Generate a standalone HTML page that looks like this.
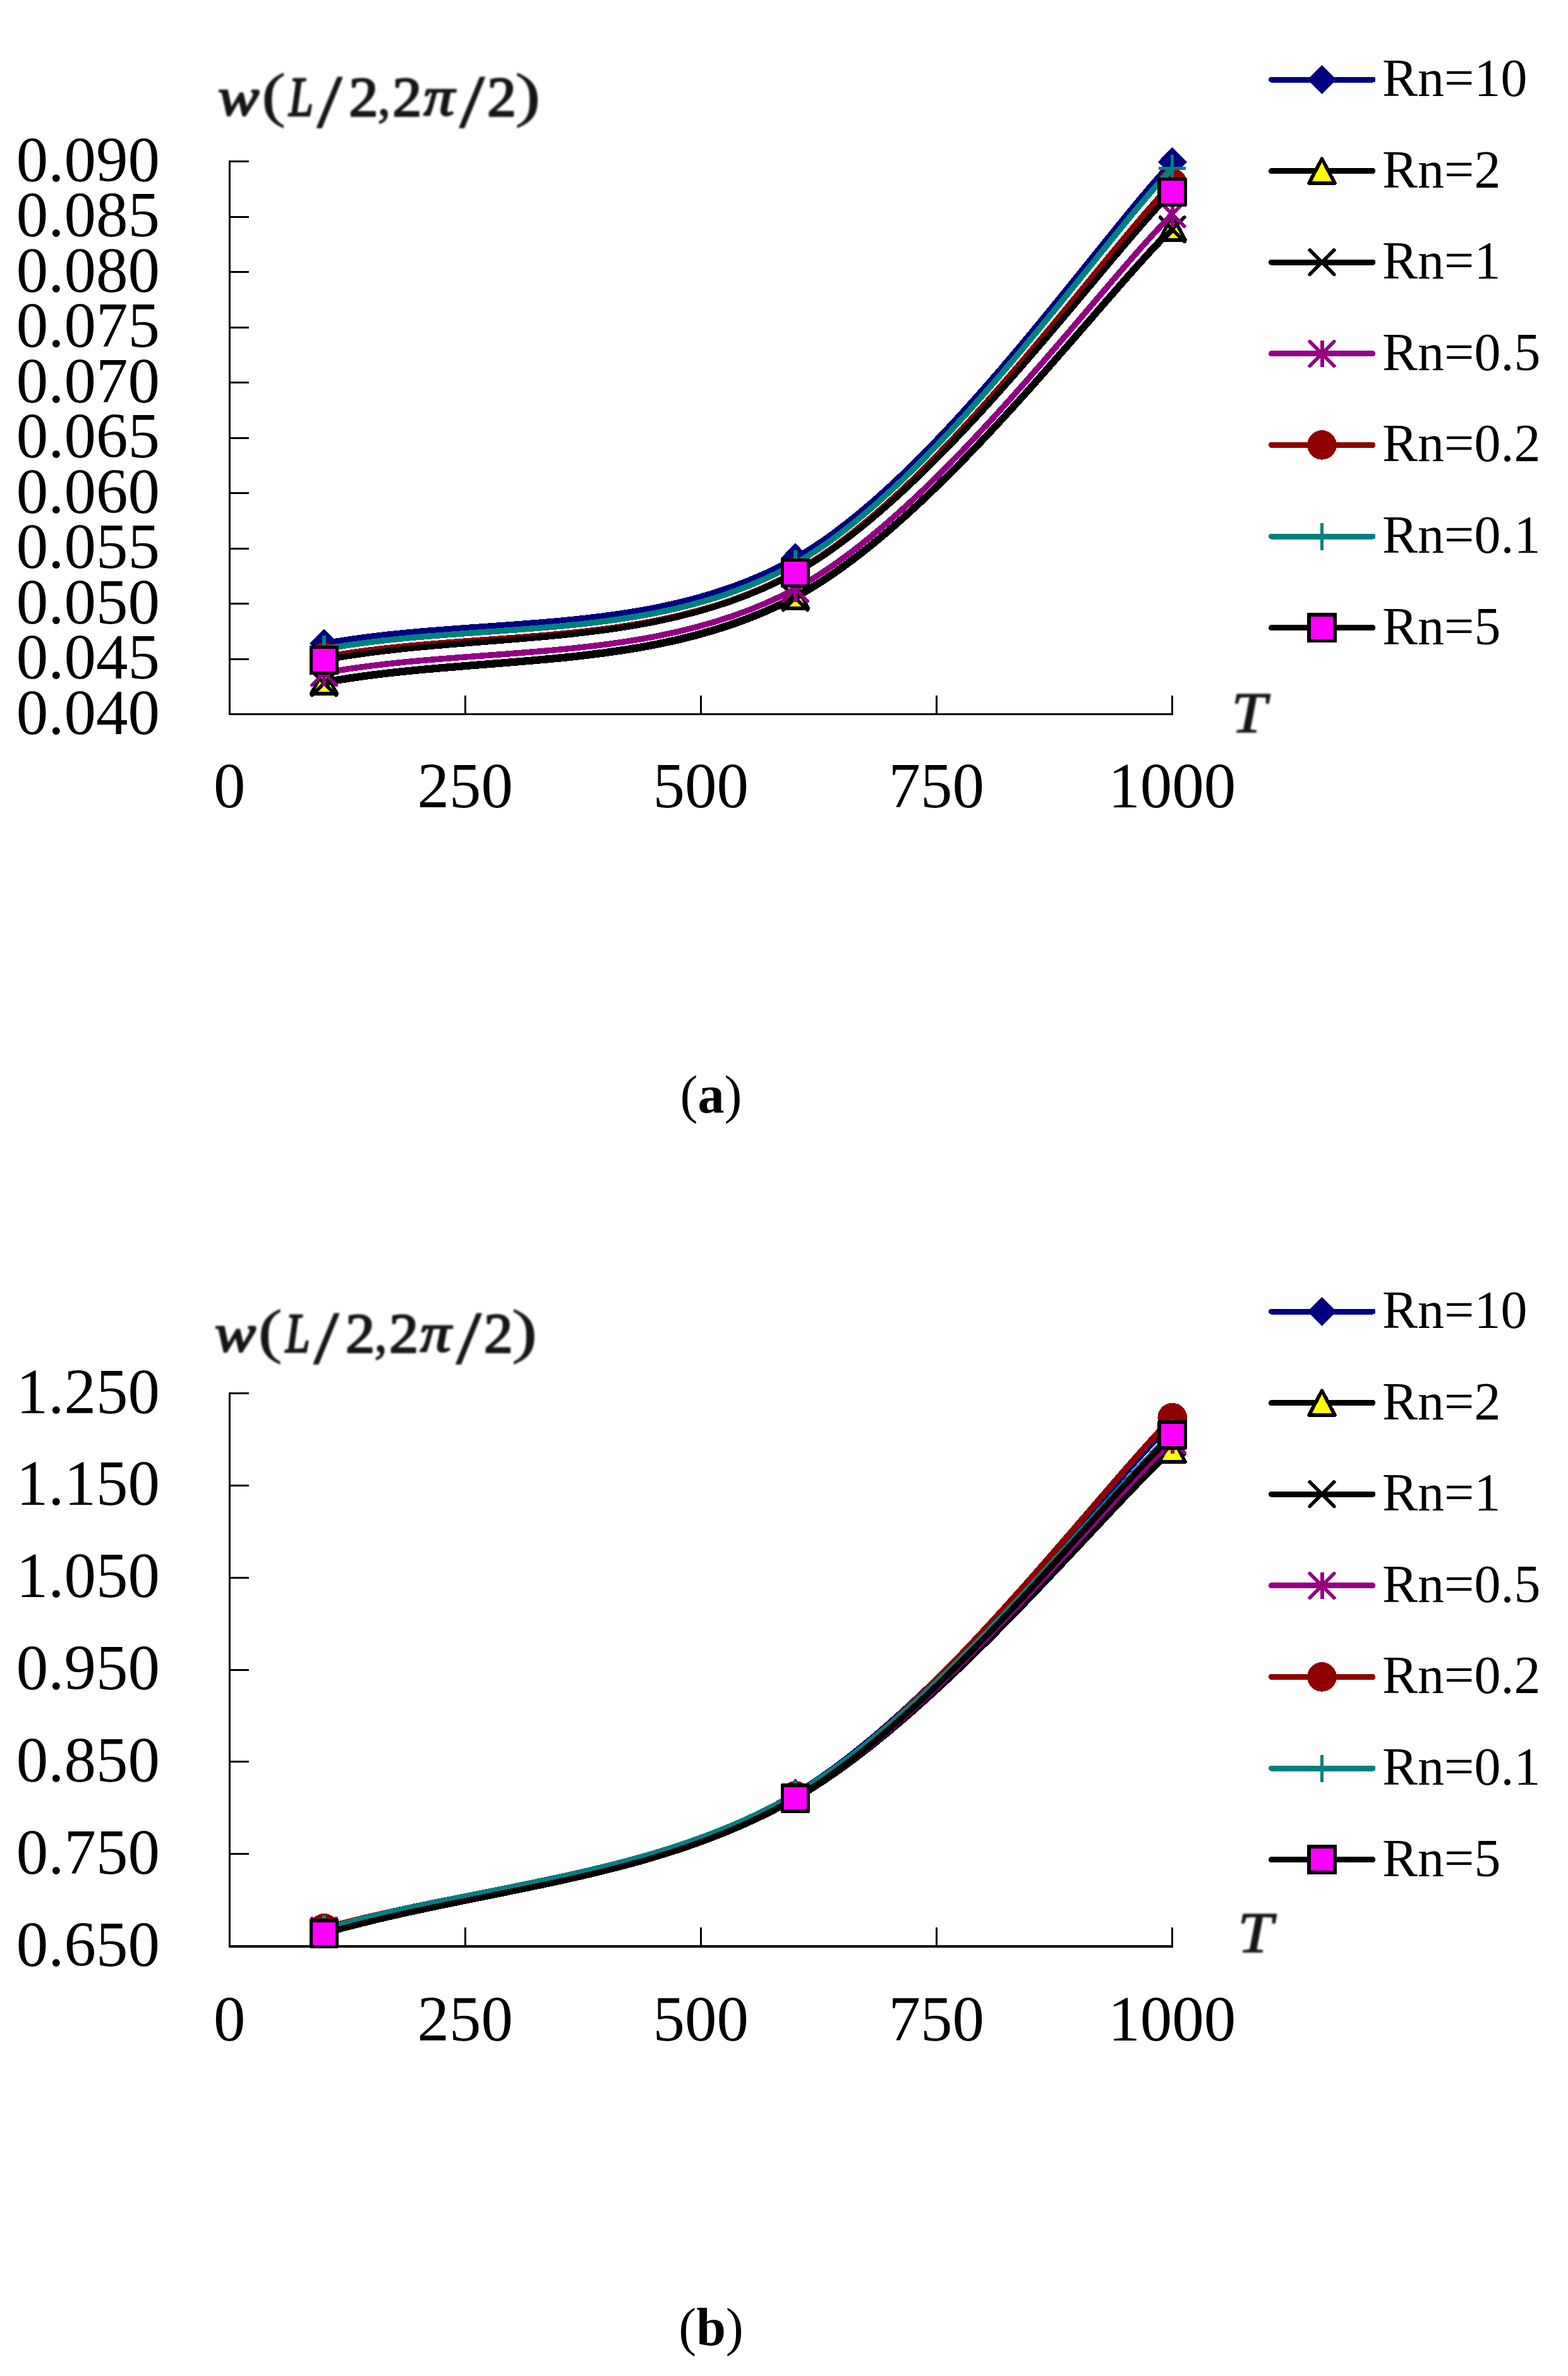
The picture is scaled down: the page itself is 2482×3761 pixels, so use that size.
<!DOCTYPE html>
<html lang="en"><head><meta charset="utf-8"><title>Figure</title>
<style>html,body{margin:0;padding:0;background:#fff}svg{display:block}</style></head><body>
<svg width="2482" height="3761" viewBox="0 0 2482 3761" role="img">
<defs><filter id="soft" x="-5%" y="-20%" width="110%" height="140%"><feGaussianBlur stdDeviation="1.5"/></filter></defs>
<rect width="2482" height="3761" fill="#fff"/>
<g shape-rendering="crispEdges" fill="#000">
<rect x="362" y="254" width="3" height="878"/>
<rect x="362" y="1129" width="1495" height="3"/>
<rect x="362" y="1042" width="32" height="3"/>
<rect x="362" y="954" width="32" height="3"/>
<rect x="362" y="867" width="32" height="3"/>
<rect x="362" y="779" width="32" height="3"/>
<rect x="362" y="692" width="32" height="3"/>
<rect x="362" y="604" width="32" height="3"/>
<rect x="362" y="517" width="32" height="3"/>
<rect x="362" y="429" width="32" height="3"/>
<rect x="362" y="342" width="32" height="3"/>
<rect x="362" y="254" width="32" height="3"/>
<rect x="735" y="1101" width="3" height="29"/>
<rect x="1108" y="1101" width="3" height="29"/>
<rect x="1481" y="1101" width="3" height="29"/>
<rect x="1854" y="1101" width="3" height="29"/>
</g>
<g font-family="'Liberation Serif', serif" font-size="101" fill="#000">
<text x="253" y="1161.5" text-anchor="end">0.040</text>
<text x="253" y="1074" text-anchor="end">0.045</text>
<text x="253" y="986.5" text-anchor="end">0.050</text>
<text x="253" y="899" text-anchor="end">0.055</text>
<text x="253" y="811.5" text-anchor="end">0.060</text>
<text x="253" y="724" text-anchor="end">0.065</text>
<text x="253" y="636.5" text-anchor="end">0.070</text>
<text x="253" y="549" text-anchor="end">0.075</text>
<text x="253" y="461.5" text-anchor="end">0.080</text>
<text x="253" y="374" text-anchor="end">0.085</text>
<text x="253" y="286.5" text-anchor="end">0.090</text>
<text x="363.3" y="1278" text-anchor="middle">0</text>
<text x="736.28" y="1278" text-anchor="middle">250</text>
<text x="1109.25" y="1278" text-anchor="middle">500</text>
<text x="1482.22" y="1278" text-anchor="middle">750</text>
<text x="1855.2" y="1278" text-anchor="middle">1000</text>
</g>
<g font-family="'Liberation Serif', serif" font-size="100" fill="#141414" stroke="#141414" stroke-linejoin="round" filter="url(#soft)">
<g><title>w(L/2,2π/2)</title><text transform="matrix(0.9780 0 0 0.8571 345.05 181.74)" stroke-width="3.06" font-style="italic">w</text><text transform="matrix(1.1518 0 0 0.9493 413.88 182.33)" stroke-width="0.86">(</text><text transform="matrix(0.6948 0 0 0.8962 457.23 182.6)" stroke-width="3.55" font-style="italic">L</text><text transform="matrix(1.4209 0 0 1.1809 502 200.82)" stroke-width="1.54">/</text><text transform="matrix(0.9277 0 0 0.8943 552.32 182.6)" stroke-width="3.07">2</text><text transform="matrix(0.8389 0 0 0.8755 597.56 182.27)" stroke-width="1.75">,</text><text transform="matrix(0.9277 0 0 0.8943 621.32 182.6)" stroke-width="3.07">2</text><text transform="matrix(0.9769 0 0 0.8571 670.41 181.74)" stroke-width="3.06" font-style="italic">π</text><text transform="matrix(1.4209 0 0 1.1809 727.5 200.82)" stroke-width="1.54">/</text><text transform="matrix(0.9152 0 0 0.8943 771.37 182.6)" stroke-width="3.10">2</text><text transform="matrix(1.2296 0 0 0.9493 815.02 182.33)" stroke-width="0.83">)</text></g>
<text transform="matrix(0.9964 0 0 0.9191 1949.32 1159.1)" stroke-width="1.88" font-style="italic">T</text>
</g>
<g fill="none" stroke-width="9.5" stroke-linejoin="round" shape-rendering="crispEdges">
<path d="M512.99 1018.5 C761.64 973.4 1035.15 1010.22 1258.94 883.2 C1482.73 756.18 1736.35 381.76 1855.7 256.4" stroke="#000080"/>
<g stroke-width="1">
<path d="M512.99 995.1 L535.99 1018.5 L512.99 1041.9 L489.99 1018.5Z" fill="#000080"/>
<path d="M1258.94 859.8 L1281.94 883.2 L1258.94 906.6 L1235.94 883.2Z" fill="#000080"/>
<path d="M1855.7 233 L1878.7 256.4 L1855.7 279.8 L1832.7 256.4Z" fill="#000080"/>
</g>
<path d="M512.99 1078.8 C761.64 1033.73 1035.15 1063.32 1258.94 943.6 C1482.73 823.88 1736.35 477.12 1855.7 360.5" stroke="#000000"/>
<g stroke-width="1">
<path d="M512.99 1059.4 L533.39 1098.2 L492.59 1098.2Z" fill="#ffff00" stroke="#000" stroke-width="5.6" stroke-linejoin="round"/>
<path d="M1258.94 924.2 L1279.34 963 L1238.54 963Z" fill="#ffff00" stroke="#000" stroke-width="5.6" stroke-linejoin="round"/>
<path d="M1855.7 341.1 L1876.1 379.9 L1835.3 379.9Z" fill="#ffff00" stroke="#000" stroke-width="5.6" stroke-linejoin="round"/>
</g>
<path d="M512.99 1081.4 C761.64 1036.43 1035.15 1066.2 1258.94 946.5 C1482.73 826.8 1736.35 479.86 1855.7 363.2" stroke="#000000"/>
<g stroke-width="1">
<path d="M493.79 1062.2 L532.19 1100.6 M493.79 1100.6 L532.19 1062.2" fill="none" stroke="#000" stroke-width="5.6" stroke-linecap="round"/>
<path d="M1239.74 927.3 L1278.14 965.7 M1239.74 965.7 L1278.14 927.3" fill="none" stroke="#000" stroke-width="5.6" stroke-linecap="round"/>
<path d="M1836.5 344 L1874.9 382.4 M1836.5 382.4 L1874.9 344" fill="none" stroke="#000" stroke-width="5.6" stroke-linecap="round"/>
</g>
<path d="M512.99 1065 C761.64 1020.67 1035.15 1053 1258.94 932 C1482.73 811 1736.35 457.6 1855.7 339" stroke="#930084"/>
<g stroke-width="1">
<path d="M493.79 1045.8 L532.19 1084.2 M493.79 1084.2 L532.19 1045.8" fill="none" stroke="#930084" stroke-width="5.6" stroke-linecap="round"/><path d="M512.99 1044.2 L512.99 1085.8" fill="none" stroke="#930084" stroke-width="6"/>
<path d="M1239.74 912.8 L1278.14 951.2 M1239.74 951.2 L1278.14 912.8" fill="none" stroke="#930084" stroke-width="5.6" stroke-linecap="round"/><path d="M1258.94 911.2 L1258.94 952.8" fill="none" stroke="#930084" stroke-width="6"/>
<path d="M1836.5 319.8 L1874.9 358.2 M1836.5 358.2 L1874.9 319.8" fill="none" stroke="#930084" stroke-width="5.6" stroke-linecap="round"/><path d="M1855.7 318.2 L1855.7 359.8" fill="none" stroke="#930084" stroke-width="6"/>
</g>
<path d="M512.99 1040 C761.64 995 1035.15 1030 1258.94 905 C1482.73 780 1736.35 413 1855.7 290" stroke="#900000"/>
<g stroke-width="1">
<circle cx="512.99" cy="1040" r="23.3" fill="#900000"/>
<circle cx="1258.94" cy="905" r="23.3" fill="#900000"/>
<circle cx="1855.7" cy="290" r="23.3" fill="#900000"/>
</g>
<path d="M512.99 1027.5 C761.64 982.33 1035.15 1018.87 1258.94 892 C1482.73 765.13 1736.35 391.44 1855.7 266.3" stroke="#008080"/>
<g stroke-width="1">
<path d="M491.49 1027.5 L534.49 1027.5 M512.99 1006 L512.99 1049" fill="none" stroke="#008080" stroke-width="5.2"/>
<path d="M1237.44 892 L1280.44 892 M1258.94 870.5 L1258.94 913.5" fill="none" stroke="#008080" stroke-width="5.2"/>
<path d="M1834.2 266.3 L1877.2 266.3 M1855.7 244.8 L1855.7 287.8" fill="none" stroke="#008080" stroke-width="5.2"/>
</g>
<path d="M512.99 1045 C761.64 999 1035.15 1030.5 1258.94 907 C1482.73 783.5 1736.35 424.6 1855.7 304" stroke="#000000"/>
<g stroke-width="1">
<rect x="492.39" y="1024.4" width="41.2" height="41.2" fill="#ff00ff" stroke="#000" stroke-width="5.4"/>
<rect x="1238.34" y="886.4" width="41.2" height="41.2" fill="#ff00ff" stroke="#000" stroke-width="5.4"/>
<rect x="1835.1" y="283.4" width="41.2" height="41.2" fill="#ff00ff" stroke="#000" stroke-width="5.4"/>
</g>
</g>
<g font-family="'Liberation Serif', serif" font-size="84" fill="#000" shape-rendering="crispEdges">
<path d="M2012.5 126 H2173" stroke="#000080" stroke-width="9" stroke-linecap="round" fill="none"/>
<path d="M2092.5 102.6 L2115.5 126 L2092.5 149.4 L2069.5 126Z" fill="#000080"/>
<text x="2188" y="152">Rn=10</text>
<path d="M2012.5 270.6 H2173" stroke="#000000" stroke-width="9" stroke-linecap="round" fill="none"/>
<path d="M2092.5 251.2 L2112.9 290 L2072.1 290Z" fill="#ffff00" stroke="#000" stroke-width="5.6" stroke-linejoin="round"/>
<text x="2188" y="296.6">Rn=2</text>
<path d="M2012.5 415.2 H2173" stroke="#000000" stroke-width="9" stroke-linecap="round" fill="none"/>
<path d="M2073.3 396 L2111.7 434.4 M2073.3 434.4 L2111.7 396" fill="none" stroke="#000" stroke-width="5.6" stroke-linecap="round"/>
<text x="2188" y="441.2">Rn=1</text>
<path d="M2012.5 559.8 H2173" stroke="#930084" stroke-width="9" stroke-linecap="round" fill="none"/>
<path d="M2073.3 540.6 L2111.7 579 M2073.3 579 L2111.7 540.6" fill="none" stroke="#930084" stroke-width="5.6" stroke-linecap="round"/><path d="M2092.5 539 L2092.5 580.6" fill="none" stroke="#930084" stroke-width="6"/>
<text x="2188" y="585.8">Rn=0.5</text>
<path d="M2012.5 704.4 H2173" stroke="#900000" stroke-width="9" stroke-linecap="round" fill="none"/>
<circle cx="2092.5" cy="704.4" r="23.3" fill="#900000"/>
<text x="2188" y="730.4">Rn=0.2</text>
<path d="M2012.5 849 H2173" stroke="#008080" stroke-width="9" stroke-linecap="round" fill="none"/>
<path d="M2071 849 L2114 849 M2092.5 827.5 L2092.5 870.5" fill="none" stroke="#008080" stroke-width="5.2"/>
<text x="2188" y="875">Rn=0.1</text>
<path d="M2012.5 993.6 H2173" stroke="#000000" stroke-width="9" stroke-linecap="round" fill="none"/>
<rect x="2071.9" y="973" width="41.2" height="41.2" fill="#ff00ff" stroke="#000" stroke-width="5.4"/>
<text x="2188" y="1019.6">Rn=5</text>
</g>
<g shape-rendering="crispEdges" fill="#000">
<rect x="362" y="2204" width="3" height="878"/>
<rect x="362" y="3079" width="1495" height="4"/>
<rect x="362" y="2933" width="32" height="3"/>
<rect x="362" y="2787" width="32" height="3"/>
<rect x="362" y="2642" width="32" height="3"/>
<rect x="362" y="2496" width="32" height="3"/>
<rect x="362" y="2350" width="32" height="3"/>
<rect x="362" y="2204" width="32" height="3"/>
<rect x="735" y="3051" width="3" height="29"/>
<rect x="1108" y="3051" width="3" height="29"/>
<rect x="1481" y="3051" width="3" height="29"/>
<rect x="1854" y="3051" width="3" height="29"/>
</g>
<g font-family="'Liberation Serif', serif" font-size="101" fill="#000">
<text x="253" y="3111.5" text-anchor="end">0.650</text>
<text x="253" y="2965.67" text-anchor="end">0.750</text>
<text x="253" y="2819.83" text-anchor="end">0.850</text>
<text x="253" y="2674" text-anchor="end">0.950</text>
<text x="253" y="2528.17" text-anchor="end">1.050</text>
<text x="253" y="2382.33" text-anchor="end">1.150</text>
<text x="253" y="2236.5" text-anchor="end">1.250</text>
<text x="363.3" y="3229.5" text-anchor="middle">0</text>
<text x="736.28" y="3229.5" text-anchor="middle">250</text>
<text x="1109.25" y="3229.5" text-anchor="middle">500</text>
<text x="1482.22" y="3229.5" text-anchor="middle">750</text>
<text x="1855.2" y="3229.5" text-anchor="middle">1000</text>
</g>
<g font-family="'Liberation Serif', serif" font-size="100" fill="#141414" stroke="#141414" stroke-linejoin="round" filter="url(#soft)">
<g><title>w(L/2,2π/2)</title><text transform="matrix(0.9780 0 0 0.8571 339.75 2138.74)" stroke-width="3.06" font-style="italic">w</text><text transform="matrix(1.1518 0 0 0.9493 408.58 2139.33)" stroke-width="0.86">(</text><text transform="matrix(0.6948 0 0 0.8962 451.93 2139.6)" stroke-width="3.55" font-style="italic">L</text><text transform="matrix(1.4209 0 0 1.1809 496.7 2157.82)" stroke-width="1.54">/</text><text transform="matrix(0.9277 0 0 0.8943 547.02 2139.6)" stroke-width="3.07">2</text><text transform="matrix(0.8389 0 0 0.8755 592.26 2139.27)" stroke-width="1.75">,</text><text transform="matrix(0.9277 0 0 0.8943 616.02 2139.6)" stroke-width="3.07">2</text><text transform="matrix(0.9769 0 0 0.8571 665.11 2138.74)" stroke-width="3.06" font-style="italic">π</text><text transform="matrix(1.4209 0 0 1.1809 722.2 2157.82)" stroke-width="1.54">/</text><text transform="matrix(0.9152 0 0 0.8943 766.07 2139.6)" stroke-width="3.10">2</text><text transform="matrix(1.2296 0 0 0.9493 809.72 2139.33)" stroke-width="0.83">)</text></g>
<text transform="matrix(0.9964 0 0 0.9191 1959.32 3090.1)" stroke-width="1.88" font-style="italic">T</text>
</g>
<g fill="none" stroke-width="9.5" stroke-linejoin="round" shape-rendering="crispEdges">
<path d="M512.99 3053 C761.64 2981.73 1035.15 2972.7 1258.94 2839.2 C1482.73 2705.7 1736.35 2369.44 1855.7 2252" stroke="#000080"/>
<g stroke-width="1">
<path d="M512.99 3029.6 L535.99 3053 L512.99 3076.4 L489.99 3053Z" fill="#000080"/>
<path d="M1258.94 2815.8 L1281.94 2839.2 L1258.94 2862.6 L1235.94 2839.2Z" fill="#000080"/>
<path d="M1855.7 2228.6 L1878.7 2252 L1855.7 2275.4 L1832.7 2252Z" fill="#000080"/>
</g>
<path d="M512.99 3061 C761.64 2989.83 1035.15 2975.23 1258.94 2847.5 C1482.73 2719.77 1736.35 2405.18 1855.7 2294.6" stroke="#000000"/>
<g stroke-width="1">
<path d="M512.99 3041.6 L533.39 3080.4 L492.59 3080.4Z" fill="#ffff00" stroke="#000" stroke-width="5.6" stroke-linejoin="round"/>
<path d="M1258.94 2828.1 L1279.34 2866.9 L1238.54 2866.9Z" fill="#ffff00" stroke="#000" stroke-width="5.6" stroke-linejoin="round"/>
<path d="M1855.7 2275.2 L1876.1 2314 L1835.3 2314Z" fill="#ffff00" stroke="#000" stroke-width="5.6" stroke-linejoin="round"/>
</g>
<path d="M512.99 3061 C761.64 2989.83 1035.15 2977.17 1258.94 2847.5 C1482.73 2717.83 1736.35 2395.9 1855.7 2283" stroke="#000000"/>
<g stroke-width="1">
<path d="M493.79 3041.8 L532.19 3080.2 M493.79 3080.2 L532.19 3041.8" fill="none" stroke="#000" stroke-width="5.6" stroke-linecap="round"/>
<path d="M1239.74 2828.3 L1278.14 2866.7 M1239.74 2866.7 L1278.14 2828.3" fill="none" stroke="#000" stroke-width="5.6" stroke-linecap="round"/>
<path d="M1836.5 2263.8 L1874.9 2302.2 M1836.5 2302.2 L1874.9 2263.8" fill="none" stroke="#000" stroke-width="5.6" stroke-linecap="round"/>
</g>
<path d="M512.99 3055.8 C761.64 2985.87 1035.15 2975.3 1258.94 2846 C1482.73 2716.7 1736.35 2393.2 1855.7 2280" stroke="#930084"/>
<g stroke-width="1">
<path d="M493.79 3036.6 L532.19 3075 M493.79 3075 L532.19 3036.6" fill="none" stroke="#930084" stroke-width="5.6" stroke-linecap="round"/><path d="M512.99 3035 L512.99 3076.6" fill="none" stroke="#930084" stroke-width="6"/>
<path d="M1239.74 2826.8 L1278.14 2865.2 M1239.74 2865.2 L1278.14 2826.8" fill="none" stroke="#930084" stroke-width="5.6" stroke-linecap="round"/><path d="M1258.94 2825.2 L1258.94 2866.8" fill="none" stroke="#930084" stroke-width="6"/>
<path d="M1836.5 2260.8 L1874.9 2299.2 M1836.5 2299.2 L1874.9 2260.8" fill="none" stroke="#930084" stroke-width="5.6" stroke-linecap="round"/><path d="M1855.7 2259.2 L1855.7 2300.8" fill="none" stroke="#930084" stroke-width="6"/>
</g>
<path d="M512.99 3052.3 C761.64 2982.33 1035.15 2977.12 1258.94 2842.4 C1482.73 2707.68 1736.35 2363.68 1855.7 2244" stroke="#900000"/>
<g stroke-width="1">
<circle cx="512.99" cy="3052.3" r="23.3" fill="#900000"/>
<circle cx="1258.94" cy="2842.4" r="23.3" fill="#900000"/>
<circle cx="1855.7" cy="2244" r="23.3" fill="#900000"/>
</g>
<path d="M512.99 3053.5 C761.64 2982.27 1035.15 2970.63 1258.94 2839.8 C1482.73 2708.97 1736.35 2382.76 1855.7 2268.5" stroke="#008080"/>
<g stroke-width="1">
<path d="M491.49 3053.5 L534.49 3053.5 M512.99 3032 L512.99 3075" fill="none" stroke="#008080" stroke-width="5.2"/>
<path d="M1237.44 2839.8 L1280.44 2839.8 M1258.94 2818.3 L1258.94 2861.3" fill="none" stroke="#008080" stroke-width="5.2"/>
<path d="M1834.2 2268.5 L1877.2 2268.5 M1855.7 2247 L1855.7 2290" fill="none" stroke="#008080" stroke-width="5.2"/>
</g>
<path d="M512.99 3060.7 C761.64 2989.27 1035.15 2977.95 1258.94 2846.4 C1482.73 2714.85 1736.35 2386.4 1855.7 2271.4" stroke="#000000"/>
<g stroke-width="1">
<rect x="492.39" y="3040.1" width="41.2" height="41.2" fill="#ff00ff" stroke="#000" stroke-width="5.4"/>
<rect x="1238.34" y="2825.8" width="41.2" height="41.2" fill="#ff00ff" stroke="#000" stroke-width="5.4"/>
<rect x="1835.1" y="2250.8" width="41.2" height="41.2" fill="#ff00ff" stroke="#000" stroke-width="5.4"/>
</g>
</g>
<g font-family="'Liberation Serif', serif" font-size="84" fill="#000" shape-rendering="crispEdges">
<path d="M2012.5 2076 H2173" stroke="#000080" stroke-width="9" stroke-linecap="round" fill="none"/>
<path d="M2092.5 2052.6 L2115.5 2076 L2092.5 2099.4 L2069.5 2076Z" fill="#000080"/>
<text x="2188" y="2102">Rn=10</text>
<path d="M2012.5 2220.6 H2173" stroke="#000000" stroke-width="9" stroke-linecap="round" fill="none"/>
<path d="M2092.5 2201.2 L2112.9 2240 L2072.1 2240Z" fill="#ffff00" stroke="#000" stroke-width="5.6" stroke-linejoin="round"/>
<text x="2188" y="2246.6">Rn=2</text>
<path d="M2012.5 2365.2 H2173" stroke="#000000" stroke-width="9" stroke-linecap="round" fill="none"/>
<path d="M2073.3 2346 L2111.7 2384.4 M2073.3 2384.4 L2111.7 2346" fill="none" stroke="#000" stroke-width="5.6" stroke-linecap="round"/>
<text x="2188" y="2391.2">Rn=1</text>
<path d="M2012.5 2509.8 H2173" stroke="#930084" stroke-width="9" stroke-linecap="round" fill="none"/>
<path d="M2073.3 2490.6 L2111.7 2529 M2073.3 2529 L2111.7 2490.6" fill="none" stroke="#930084" stroke-width="5.6" stroke-linecap="round"/><path d="M2092.5 2489 L2092.5 2530.6" fill="none" stroke="#930084" stroke-width="6"/>
<text x="2188" y="2535.8">Rn=0.5</text>
<path d="M2012.5 2654.4 H2173" stroke="#900000" stroke-width="9" stroke-linecap="round" fill="none"/>
<circle cx="2092.5" cy="2654.4" r="23.3" fill="#900000"/>
<text x="2188" y="2680.4">Rn=0.2</text>
<path d="M2012.5 2799 H2173" stroke="#008080" stroke-width="9" stroke-linecap="round" fill="none"/>
<path d="M2071 2799 L2114 2799 M2092.5 2777.5 L2092.5 2820.5" fill="none" stroke="#008080" stroke-width="5.2"/>
<text x="2188" y="2825">Rn=0.1</text>
<path d="M2012.5 2943.6 H2173" stroke="#000000" stroke-width="9" stroke-linecap="round" fill="none"/>
<rect x="2071.9" y="2923" width="41.2" height="41.2" fill="#ff00ff" stroke="#000" stroke-width="5.4"/>
<text x="2188" y="2969.6">Rn=5</text>
</g>
<g font-family="'Liberation Serif', serif" font-size="84" fill="#000">
<text x="1125.5" y="1760.5" text-anchor="middle">(<tspan font-weight="bold">a</tspan>)</text>
<text x="1125.5" y="3711.5" text-anchor="middle">(<tspan font-weight="bold">b</tspan>)</text>
</g>
</svg></body></html>
